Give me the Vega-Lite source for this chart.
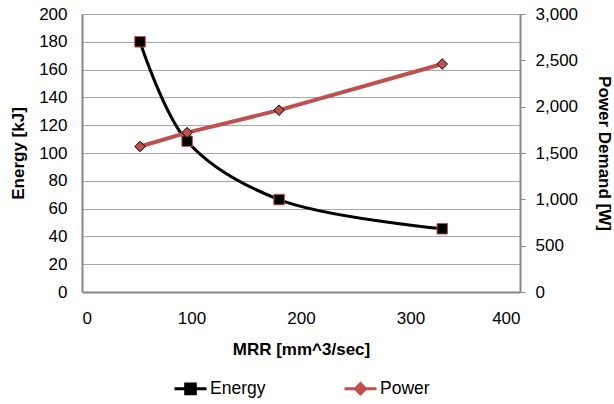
{
  "$schema": "https://vega.github.io/schema/vega-lite/v6.json",
  "width": 438,
  "height": 278,
  "autosize": {"type": "none"},
  "padding": {"left": 82, "top": 14, "right": 94, "bottom": 112},
  "background": "white",
  "config": {
    "font": "Liberation Sans",
    "view": {"stroke": null},
    "axis": {
      "labelFont": "Liberation Sans",
      "labelFontSize": 17,
      "labelColor": "#000000",
      "titleFont": "Liberation Sans",
      "titleFontSize": 17,
      "titleFontWeight": "bold",
      "titleColor": "#000000",
      "domainColor": "#878787",
      "domainWidth": 2,
      "tickColor": "#878787",
      "gridColor": "#A6A6A6",
      "gridWidth": 1
    },
    "legend": {
      "labelFont": "Liberation Sans",
      "labelFontSize": 17.5,
      "labelColor": "#000000"
    }
  },
  "data": {
    "values": [
      {"mrr": 53, "energy": 180, "power": 1570},
      {"mrr": 96, "energy": 108.5, "power": 1720},
      {"mrr": 180, "energy": 66.5, "power": 1962},
      {"mrr": 329, "energy": 45.5, "power": 2460}
    ]
  },
  "encoding": {
    "x": {
      "field": "mrr",
      "type": "quantitative",
      "scale": {"domain": [0, 400], "nice": false, "zero": false},
      "axis": {
        "title": "MRR [mm^3/sec]",
        "values": [0, 100, 200, 300, 400],
        "grid": false,
        "ticks": false,
        "labelPadding": 18,
        "titlePadding": 15
      }
    }
  },
  "layer": [
    {
      "encoding": {
        "y": {
          "field": "energy",
          "type": "quantitative",
          "scale": {"domain": [0, 200], "nice": false},
          "axis": {
            "title": "Energy [kJ]",
            "orient": "left",
            "values": [0, 20, 40, 60, 80, 100, 120, 140, 160, 180, 200],
            "grid": true,
            "ticks": false,
            "labelPadding": 15,
            "titlePadding": 11
          }
        }
      },
      "layer": [
        {
          "mark": {"type": "line", "interpolate": "catmull-rom", "strokeWidth": 3},
          "encoding": {
            "color": {
              "datum": "Energy",
              "scale": {"domain": ["Energy", "Power"], "range": ["#000000", "#C0504D"]},
              "legend": {
                "title": null,
                "orient": "none",
                "legendX": 91,
                "legendY": 357,
                "direction": "horizontal",
                "columnPadding": 72,
                "symbolSize": 1024,
                "symbolStrokeWidth": 3,
                "labelOffset": 2,
                "encode": {
                  "symbols": {
                    "update": {
                      "shape": {"signal": "datum.value === 'Energy' ? 'M-1,0H1M-0.3,-0.3H0.3V0.3H-0.3Z' : 'M-1,0H1M0,-0.32L0.32,0L0,0.32L-0.32,0Z'"},
                      "fill": {"signal": "datum.value === 'Energy' ? '#000000' : '#C0504D'"},
                      "stroke": {"signal": "datum.value === 'Energy' ? '#000000' : '#C0504D'"},
                      "opacity": {"value": 1}
                    }
                  }
                }
              }
            }
          }
        },
        {
          "mark": {"type": "point", "shape": "square", "filled": true, "fill": "#000000", "stroke": "#C0504D", "strokeWidth": 1, "size": 110, "opacity": 1}
        }
      ]
    },
    {
      "encoding": {
        "y": {
          "field": "power",
          "type": "quantitative",
          "scale": {"domain": [0, 3000], "nice": false},
          "axis": {
            "title": "Power Demand [W]",
            "orient": "right",
            "values": [0, 500, 1000, 1500, 2000, 2500, 3000],
            "format": ",.0f",
            "grid": false,
            "ticks": true,
            "tickSize": 5,
            "tickWidth": 1,
            "labelPadding": 10,
            "titlePadding": 17
          }
        }
      },
      "layer": [
        {
          "mark": {"type": "line", "strokeWidth": 4},
          "encoding": {
            "color": {"datum": "Power"}
          }
        },
        {
          "mark": {"type": "point", "shape": "diamond", "filled": true, "fill": "#C0504D", "stroke": "#000000", "strokeWidth": 1, "size": 110, "opacity": 1}
        }
      ]
    }
  ],
  "resolve": {"scale": {"y": "independent"}}
}
